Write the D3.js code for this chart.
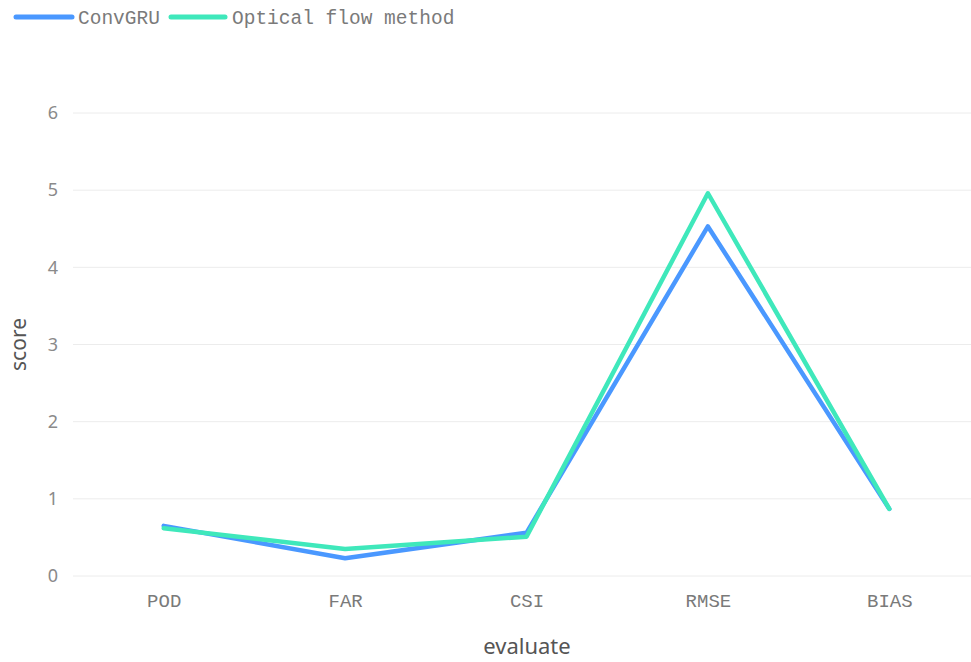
<!DOCTYPE html>
<html>
<head>
<meta charset="utf-8">
<script src="https://cdn.jsdelivr.net/npm/d3@7"></script>
<style>
  html, body { margin: 0; padding: 0; background: #fff; }
  svg { display: block; }
</style>
</head>
<body>
<svg id="chart" width="971" height="662"></svg>
<script>
// Evaluation metrics and scores for each method
const categories = ["POD", "FAR", "CSI", "RMSE", "BIAS"];
const convGRU = [0.65, 0.23, 0.56, 4.53, 0.87];
const opticalFlow = [0.62, 0.35, 0.51, 4.96, 0.87];
const yTicks = [0, 1, 2, 3, 4, 5, 6];
const seriesNames = ["ConvGRU", "Optical flow method"];
const seriesColors = ["#4a98ff", "#3fe8bb"];

const svg = d3.select("#chart");
const W = 971, H = 662;
const plot = { left: 73, right: 980, top: 113, bottom: 576 };

const x = d3.scalePoint().domain(categories).range([plot.left, plot.right]).padding(0.5);
const y = d3.scaleLinear().domain([0, 6]).range([plot.bottom, plot.top]);

// horizontal grid
svg.append("g")
  .selectAll("line")
  .data(yTicks)
  .join("line")
  .attr("x1", plot.left).attr("x2", W)
  .attr("y1", d => y(d)).attr("y2", d => y(d))
  .attr("stroke", "#ececec").attr("stroke-width", 1);

// y axis labels
const yAxis = d3.axisLeft(y).tickValues(yTicks).tickFormat(d3.format("d")).tickSize(0).tickPadding(15);
const gy = svg.append("g").attr("transform", `translate(${plot.left},0)`).call(yAxis);
gy.select(".domain").remove();
gy.selectAll("text")
  .attr("font-family", "'Noto Sans', sans-serif")
  .attr("font-size", 18)
  .attr("fill", "#8a8a8a");

// x axis labels
const xAxis = d3.axisBottom(x).tickSize(0).tickPadding(14);
const gx = svg.append("g").attr("transform", `translate(0,${plot.bottom})`).call(xAxis);
gx.select(".domain").remove();
gx.selectAll("text")
  .attr("font-family", "'Liberation Mono', monospace")
  .attr("font-size", 19)
  .attr("fill", "#7a7a7a")
  .attr("dy", "0.9em");

// axis titles
svg.append("text")
  .attr("transform", `translate(26,${(plot.top + plot.bottom) / 2}) rotate(-90)`)
  .attr("text-anchor", "middle")
  .attr("font-family", "'Noto Sans', sans-serif")
  .attr("font-size", 21)
  .attr("fill", "#555")
  .text("score");

svg.append("text")
  .attr("x", 527).attr("y", 654)
  .attr("text-anchor", "middle")
  .attr("font-family", "'Noto Sans', sans-serif")
  .attr("font-size", 22)
  .attr("fill", "#555")
  .text("evaluate");

// lines
const line = d3.line()
  .x((d, i) => x(categories[i]))
  .y(d => y(d));

[convGRU, opticalFlow].forEach((vals, i) => {
  svg.append("path")
    .datum(vals)
    .attr("d", line)
    .attr("fill", "none")
    .attr("stroke", seriesColors[i])
    .attr("stroke-width", 4.5)
    .attr("stroke-linejoin", "round")
    .attr("stroke-linecap", "round");
});

// legend
const legendItems = [
  { x1: 16, x2: 72, tx: 78 },
  { x1: 171, x2: 225, tx: 232 }
];
legendItems.forEach((it, i) => {
  svg.append("line")
    .attr("x1", it.x1).attr("x2", it.x2)
    .attr("y1", 17).attr("y2", 17)
    .attr("stroke", seriesColors[i])
    .attr("stroke-width", 5)
    .attr("stroke-linecap", "round");
  svg.append("text")
    .attr("x", it.tx).attr("y", 24)
    .attr("font-family", "'Liberation Mono', monospace")
    .attr("font-size", 19.5)
    .attr("fill", "#7a7a7a")
    .text(seriesNames[i]);
});
</script>
</body>
</html>
